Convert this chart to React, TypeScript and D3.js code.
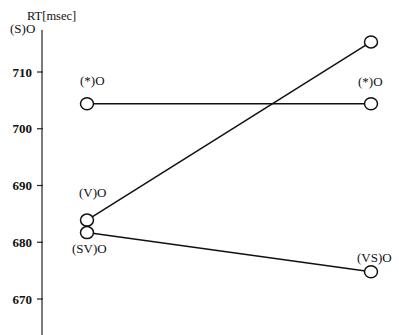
import React, { useEffect, useRef } from 'react';
import * as d3 from 'd3';

// RT (msec) per condition, left column -> right column
const startLabels = ['(*)O', '(V)O', '(SV)O'];
const endLabels = ['(*)O', '(S)O', '(VS)O'];
const startValues = [704.4, 683.9, 681.7];
const endValues = [704.4, 715.3, 674.8];
const yTicks = [670, 680, 690, 700, 710];
const columns = ['start', 'end'];

const App = () => {
    const svgRef = useRef<SVGSVGElement | null>(null);

    useEffect(() => {
        if (!svgRef.current) return;
        const svg = d3.select(svgRef.current);
        svg.selectAll('*').remove();

        const width = 399;
        const height = 335;
        const axisX = 42;
        const font = 'Liberation Serif, DejaVu Serif, serif';

        const x = d3.scalePoint<string>().domain(columns).range([87, 371]);
        const y = d3.scaleLinear().domain([670, 710]).range([299, 72]);

        svg.attr('width', width).attr('height', height);

        svg.append('rect').attr('width', width).attr('height', height).attr('fill', '#fff');

        // Axis
        const axis = svg.append('g').attr('transform', `translate(${axisX},0)`);
        axis.append('line')
            .attr('y1', 30)
            .attr('y2', height)
            .attr('stroke', '#222')
            .attr('stroke-width', 1.2);

        axis.selectAll('line.tick')
            .data(yTicks)
            .enter()
            .append('line')
            .attr('class', 'tick')
            .attr('x1', -5)
            .attr('x2', 1)
            .attr('y1', d => y(d))
            .attr('y2', d => y(d))
            .attr('stroke', '#222')
            .attr('stroke-width', 1.2);

        axis.selectAll('text.tick')
            .data(yTicks)
            .enter()
            .append('text')
            .attr('class', 'tick')
            .attr('x', -10)
            .attr('y', d => y(d) + 4.5)
            .attr('text-anchor', 'end')
            .attr('font-family', font)
            .attr('font-size', 13)
            .attr('font-weight', 'bold')
            .attr('fill', '#111')
            .text(d => d);

        svg.append('text')
            .attr('x', 27)
            .attr('y', 20)
            .attr('font-family', font)
            .attr('font-size', 12.5)
            .attr('fill', '#111')
            .text('RT[msec]');

        // Lines
        const lineData = startValues.map((v, i) => [
            { col: 'start', v },
            { col: 'end', v: endValues[i] },
        ]);
        const line = d3.line<{ col: string; v: number }>()
            .x(d => x(d.col) as number)
            .y(d => y(d.v));

        svg.selectAll('path.series')
            .data(lineData)
            .enter()
            .append('path')
            .attr('class', 'series')
            .attr('d', d => line(d))
            .attr('fill', 'none')
            .attr('stroke', '#111')
            .attr('stroke-width', 1.5);

        // Markers
        const points = [
            ...startValues.map(v => ({ col: 'start', v })),
            ...endValues.map(v => ({ col: 'end', v })),
        ];
        svg.selectAll('ellipse.pt')
            .data(points)
            .enter()
            .append('ellipse')
            .attr('class', 'pt')
            .attr('cx', d => x(d.col) as number)
            .attr('cy', d => y(d.v))
            .attr('rx', 6.5)
            .attr('ry', 6)
            .attr('fill', '#fff')
            .attr('stroke', '#111')
            .attr('stroke-width', 1.5);

        // Point labels
        const labelStyle = (sel: any) => sel
            .attr('font-family', font)
            .attr('font-size', 13)
            .attr('fill', '#111');

        // left column: (*) and (V) above, (SV) below
        const startDx = [-7, -8, -15];
        const startDy = [-19, -23, 20];
        startLabels.forEach((t, i) => {
            svg.append('text')
                .attr('x', (x('start') as number) + startDx[i])
                .attr('y', y(startValues[i]) + startDy[i])
                .call(labelStyle)
                .text(t);
        });

        // right column: (*) and (VS) above, (S) at top-left of axis
        svg.append('text')
            .attr('x', (x('end') as number) - 13)
            .attr('y', y(endValues[0]) - 18)
            .call(labelStyle)
            .text(endLabels[0]);
        svg.append('text')
            .attr('x', 10)
            .attr('y', 33)
            .call(labelStyle)
            .text(endLabels[1]);
        svg.append('text')
            .attr('x', (x('end') as number) - 14)
            .attr('y', y(endValues[2]) - 10)
            .call(labelStyle)
            .text(endLabels[2]);
    }, []);

    return (
        <div style={{ position: 'fixed', left: 0, top: 0 }}>
            <svg ref={svgRef}></svg>
        </div>
    );
};

export default App;
